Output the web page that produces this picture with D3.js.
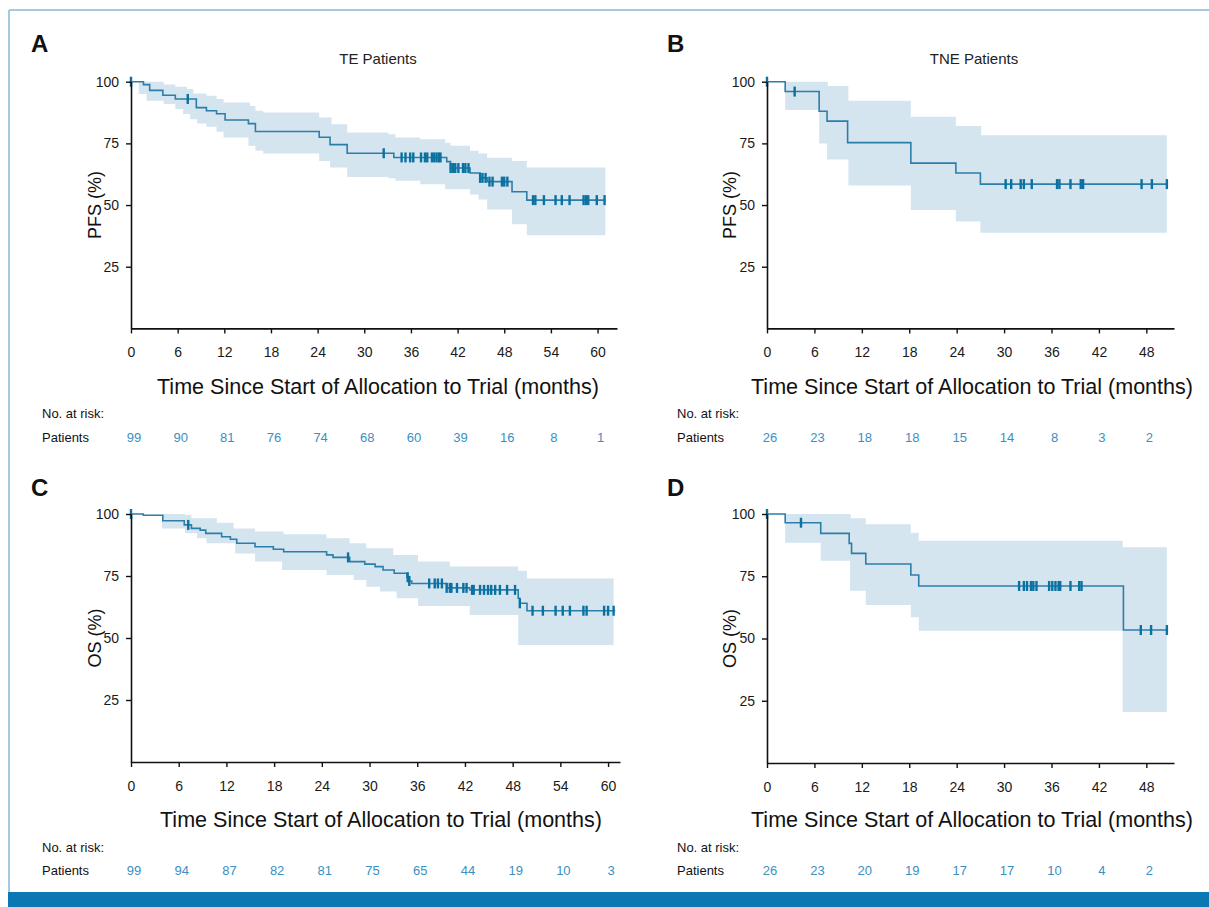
<html>
<head>
<script src="https://d3js.org/d3.v7.min.js"></script>
<style>
  body { margin: 0; background: #fff; }
  text { font-family: "Liberation Sans", Arial, sans-serif; }
  .narrow { font-family: "Liberation Sans Narrow", "Liberation Sans", Arial, sans-serif; }
</style>
</head>
<body>
<svg id="fig" width="1209" height="907"></svg>
<script>
// ---- data (months, %) ----
// Panel A: PFS, TE patients
const kmTimeA = [0, 1.6, 2.4, 4.1, 5.7, 8.4, 9.7, 11, 12.1, 15.1, 16, 24.2, 25.6, 27.8, 33.8, 40.6, 41.1, 43.6, 44.9, 45.8, 49, 50.9, 61];
const kmSurvA = [100, 98.8, 96.5, 94.5, 93, 89.5, 88.2, 87, 84.5, 83, 79.8, 77.5, 74.5, 71, 69.3, 67.6, 65, 63, 61, 59.5, 55.4, 52, 52];
const upTimeA = [0, 4.2, 5.7, 7.2, 8.0, 9.7, 11.0, 11.9, 15.3, 16.0, 17.0, 24.2, 25.8, 27.8, 33.1, 34.0, 37.2, 40.4, 41.1, 43.6, 44.7, 45.8, 49.0, 50.9, 61];
const upValA  = [100, 98.9, 98, 97, 95.2, 94.3, 93, 91.6, 90.2, 88.2, 87.5, 85.5, 82.8, 79.4, 78.7, 77.4, 76.7, 75.3, 74, 72, 70.9, 69.2, 67.9, 65.2, 65.2];
const loTimeA = [0, 1.0, 2.0, 4.2, 5.7, 6.7, 7.6, 8.5, 9.7, 11.0, 11.9, 15.1, 16.0, 17.0, 24.2, 25.6, 27.8, 33.1, 34.0, 37.2, 40.4, 43.6, 44.7, 45.8, 49.0, 50.9, 61];
const loValA  = [100, 95, 92.3, 91, 88.9, 86.9, 84.8, 83.1, 81.7, 79.7, 77.4, 74, 72, 70.9, 67.9, 65.2, 61.4, 60.9, 59.8, 58.4, 56.4, 54.3, 52.3, 48.2, 42.2, 37.8, 37.8];
const censorA = [0, 7.3, 32.5, 34.8, 35.3, 35.9, 36.3, 37.3, 37.8, 38.1, 38.7, 39.0, 39.3, 39.6, 39.8, 41.1, 41.4, 41.7, 42.1, 42.7, 43.0, 43.4, 44.9, 45.2, 45.6, 46.1, 46.5, 47.7, 48.0, 48.4, 51.7, 52.0, 53.1, 54.6, 55.4, 56.4, 58.2, 58.5, 58.8, 59.9, 60.9];
const riskA = [99, 90, 81, 76, 74, 68, 60, 39, 16, 8, 1];

// Panel B: PFS, TNE patients
const kmTimeB = [0, 2.3, 6.6, 7.6, 10.2, 18.2, 23.9, 27.0, 50.6];
const kmSurvB = [100, 96, 88, 84, 75.3, 67, 63, 58.5, 58.5];
const upTimeB = [0, 7.7, 10.3, 18.2, 23.9, 27.1, 50.6];
const upValB  = [100, 98.3, 92.3, 85.8, 82, 78.3, 78.3];
const loTimeB = [0, 2.3, 6.6, 7.6, 10.3, 18.2, 23.9, 27.0, 50.6];
const loValB  = [100, 88.5, 75, 68.5, 57.9, 48, 43.3, 38.8, 38.8];
const censorB = [0, 3.5, 30.2, 30.9, 32.1, 32.5, 33.5, 36.7, 37.0, 38.4, 39.7, 40.0, 47.4, 48.7, 50.6];
const riskB = [26, 23, 18, 18, 15, 14, 8, 3, 2];

// Panel C: OS, TE patients
const kmTimeC = [0, 1.55, 4.0, 6.7, 7.6, 8.7, 9.4, 11.4, 12.5, 13.3, 15.6, 17.9, 19.2, 24.6, 25.4, 27.5, 29.4, 30.7, 31.7, 33.1, 34.7, 35.0, 35.3, 39.7, 42.6, 48.7, 48.9, 49.8, 60.9];
const kmSurvC = [100, 99.5, 97.3, 95.6, 94.2, 93.5, 92.2, 90.8, 89.8, 88.2, 86.8, 85.8, 84.8, 83.5, 82.5, 80.8, 79.8, 78.8, 77.4, 76.1, 74.5, 73, 72, 70.2, 69.4, 66, 64, 61, 61];
const upTimeC = [0, 6.8, 7.6, 10.8, 12.9, 15.6, 19.2, 24.6, 27.5, 29.6, 33.0, 36.1, 40.1, 48.7, 49.8, 60.7];
const upValC  = [100, 99.6, 98.3, 96.5, 94.2, 92.9, 91.8, 90.2, 88.2, 86.2, 83.5, 80.8, 78.8, 77.1, 74, 74];
const loTimeC = [0, 3.9, 6.8, 8.3, 9.5, 13.1, 15.6, 19.0, 24.6, 28.0, 29.6, 31.3, 33.4, 36.1, 42.6, 48.7, 60.7];
const loValC  = [100, 94.2, 92.2, 90.2, 88.2, 84.1, 80.8, 77.4, 75.4, 73.4, 70.7, 68.7, 66, 62.9, 59.3, 47.2, 47.2];
const censorC = [0, 7.2, 27.3, 34.8, 35.0, 37.5, 38.2, 38.6, 39.1, 39.7, 40.1, 40.3, 41.0, 41.8, 42.2, 42.9, 43.1, 43.9, 44.4, 44.9, 45.3, 45.8, 46.4, 47.3, 48.3, 48.9, 50.5, 51.8, 53.4, 54.3, 55.2, 56.9, 57.3, 59.5, 60.0, 60.7];
const riskC = [99, 94, 87, 82, 81, 75, 65, 44, 19, 10, 3];

// Panel D: OS, TNE patients
const kmTimeD = [0, 2.3, 6.8, 10.4, 10.7, 12.5, 18.2, 19.2, 45.1, 50.6];
const kmSurvD = [100, 96.5, 92.2, 88.2, 84.2, 79.9, 75.5, 71.1, 53.4, 53.4];
const upTimeD = [0, 10.6, 12.5, 18.2, 19.2, 45.0, 50.6];
const upValD  = [100, 98.3, 95.9, 92.5, 89.3, 86.6, 86.6];
const loTimeD = [0, 2.3, 6.8, 10.5, 12.5, 18.2, 19.2, 45.0, 50.6];
const loValD  = [100, 88.5, 81.2, 69.2, 63.5, 58.5, 53.1, 20.5, 20.5];
const censorD = [0, 4.3, 31.9, 32.5, 32.9, 33.4, 33.7, 34.1, 35.7, 36.1, 36.5, 36.9, 37.1, 38.4, 39.5, 39.8, 47.3, 48.6, 50.6];
const riskD = [26, 23, 20, 19, 17, 17, 10, 4, 2];

const yTicks = [25, 50, 75, 100];
const xTitle = "Time Since Start of Allocation to Trial (months)";

const panels = [
  { letter: "A", title: "TE Patients", ylab: "PFS (%)", kmT: kmTimeA, kmS: kmSurvA, upT: upTimeA, upV: upValA, loT: loTimeA, loV: loValA, cens: censorA, risk: riskA,
    xMax: 62.5, xr: [131, 617], yr: [328.4, 81.7], ticks: d3.range(0, 61, 6), letterPos: [31, 52], titleX: 378, xtX: 378, ylabX: 101, xtY: 394, riskX: 42, riskY: [418, 442] },
  { letter: "B", title: "TNE Patients", ylab: "PFS (%)", kmT: kmTimeB, kmS: kmSurvB, upT: upTimeB, upV: upValB, loT: loTimeB, loV: loValB, cens: censorB, risk: riskB,
    xMax: 51.5, xr: [767, 1174], yr: [328.4, 81.7], ticks: d3.range(0, 49, 6), letterPos: [667, 52], titleX: 974, xtX: 972, ylabX: 736, xtY: 394, riskX: 677, riskY: [418, 442] },
  { letter: "C", title: null, ylab: "OS (%)", kmT: kmTimeC, kmS: kmSurvC, upT: upTimeC, upV: upValC, loT: loTimeC, loV: loValC, cens: censorC, risk: riskC,
    xMax: 61.5, xr: [131, 620], yr: [762, 514], ticks: d3.range(0, 61, 6), letterPos: [31, 496], titleX: 381, xtX: 381, ylabX: 101, xtY: 827, riskX: 42, riskY: [852, 875] },
  { letter: "D", title: null, ylab: "OS (%)", kmT: kmTimeD, kmS: kmSurvD, upT: upTimeD, upV: upValD, loT: loTimeD, loV: loValD, cens: censorD, risk: riskD,
    xMax: 51.5, xr: [767, 1174], yr: [763, 514], ticks: d3.range(0, 49, 6), letterPos: [667, 496], titleX: 974, xtX: 972, ylabX: 736, xtY: 827, riskX: 677, riskY: [852, 875] }
];

const lineColor = "#2c7eaa";
const markColor = "#0a71a0";
const bandColor = "#d5e5ef";
const riskColor = "#3b8fc0";

const svg = d3.select("#fig");

// frame
svg.append("line").attr("x1", 9).attr("x2", 1209).attr("y1", 10).attr("y2", 10)
  .attr("stroke", "#a7c9df").attr("stroke-width", 2);
svg.append("line").attr("x1", 9).attr("x2", 9).attr("y1", 10).attr("y2", 893)
  .attr("stroke", "#a7c9df").attr("stroke-width", 2);
svg.append("rect").attr("x", 8).attr("y", 892).attr("width", 1201).attr("height", 15).attr("fill", "#0b77b3");

function stepVal(ts, vs, t) {
  const i = d3.bisectRight(ts, t) - 1;
  return vs[Math.max(0, Math.min(i, vs.length - 1))];
}

panels.forEach(p => {
  const x = d3.scaleLinear().domain([0, p.xMax]).range(p.xr);
  const y = d3.scaleLinear().domain([0, 100]).range(p.yr);
  const g = svg.append("g");

  // confidence band
  const bandT = Array.from(new Set(p.upT.concat(p.loT))).sort((a, b) => a - b);
  const band = bandT.map(t => ({ t, lo: stepVal(p.loT, p.loV, t), hi: stepVal(p.upT, p.upV, t) }));
  g.append("path").datum(band)
    .attr("fill", bandColor)
    .attr("d", d3.area().curve(d3.curveStepAfter).x(d => x(d.t)).y0(d => y(d.lo)).y1(d => y(d.hi)));

  // KM curve
  const km = p.kmT.map((t, i) => ({ t, s: p.kmS[i] }));
  g.append("path").datum(km)
    .attr("fill", "none").attr("stroke", lineColor).attr("stroke-width", 1.6)
    .attr("d", d3.line().curve(d3.curveStepAfter).x(d => x(d.t)).y(d => y(d.s)));

  // censor marks
  g.append("g").selectAll("line").data(p.cens).join("line")
    .attr("x1", d => x(d)).attr("x2", d => x(d))
    .attr("y1", d => y(stepVal(p.kmT, p.kmS, d)) - 5)
    .attr("y2", d => y(stepVal(p.kmT, p.kmS, d)) + 5)
    .attr("stroke", markColor).attr("stroke-width", 2.4);

  // axes
  const xAxis = g.append("g").attr("transform", `translate(0,${p.yr[0]})`)
    .call(d3.axisBottom(x).tickValues(p.ticks).tickSize(5).tickSizeOuter(0));
  const yAxis = g.append("g").attr("transform", `translate(${p.xr[0]},0)`)
    .call(d3.axisLeft(y).tickValues(yTicks).tickSize(5).tickSizeOuter(0));
  [xAxis, yAxis].forEach(a => {
    a.select(".domain").attr("stroke", "#111").attr("stroke-width", 1.6);
    a.selectAll(".tick line").attr("stroke", "#111").attr("stroke-width", 1.4);
    a.selectAll(".tick text").attr("font-size", 14).attr("fill", "#1a1a1a")
      .style("font-family", "'Liberation Sans', Arial, sans-serif");
  });
  xAxis.selectAll(".tick text").attr("y", 19);
  yAxis.selectAll(".tick text").attr("x", -12);

  // labels
  svg.append("text").attr("x", p.letterPos[0]).attr("y", p.letterPos[1])
    .attr("font-size", 24).attr("font-weight", "bold").attr("fill", "#111").text(p.letter);
  if (p.title) {
    svg.append("text").attr("class", "narrow").attr("x", p.titleX).attr("y", 64)
      .attr("text-anchor", "middle").attr("font-size", 15).attr("fill", "#222").text(p.title);
  }
  svg.append("text")
    .attr("transform", `translate(${p.ylabX},${(p.yr[0] + p.yr[1]) / 2}) rotate(-90)`)
    .attr("text-anchor", "middle").attr("font-size", 18).attr("fill", "#111")
    .attr("xml:space", "preserve").text(p.ylab);
  svg.append("text").attr("class", "narrow").attr("x", p.xtX).attr("y", p.xtY)
    .attr("text-anchor", "middle").attr("font-size", 21.5).attr("fill", "#111")
    .attr("textLength", 442).attr("lengthAdjust", "spacingAndGlyphs").text(xTitle);

  // risk table
  svg.append("text").attr("class", "narrow").attr("x", p.riskX).attr("y", p.riskY[0])
    .attr("font-size", 13).attr("fill", "#111").text("No. at risk:");
  svg.append("text").attr("class", "narrow").attr("x", p.riskX).attr("y", p.riskY[1])
    .attr("font-size", 13).attr("fill", "#111").text("Patients");
  svg.append("g").selectAll("text").data(p.risk).join("text")
    .attr("class", "narrow")
    .attr("x", (d, i) => x(p.ticks[i]) + 3).attr("y", p.riskY[1])
    .attr("text-anchor", "middle").attr("font-size", 13).attr("fill", riskColor)
    .text(d => d);
});
</script>
</body>
</html>
